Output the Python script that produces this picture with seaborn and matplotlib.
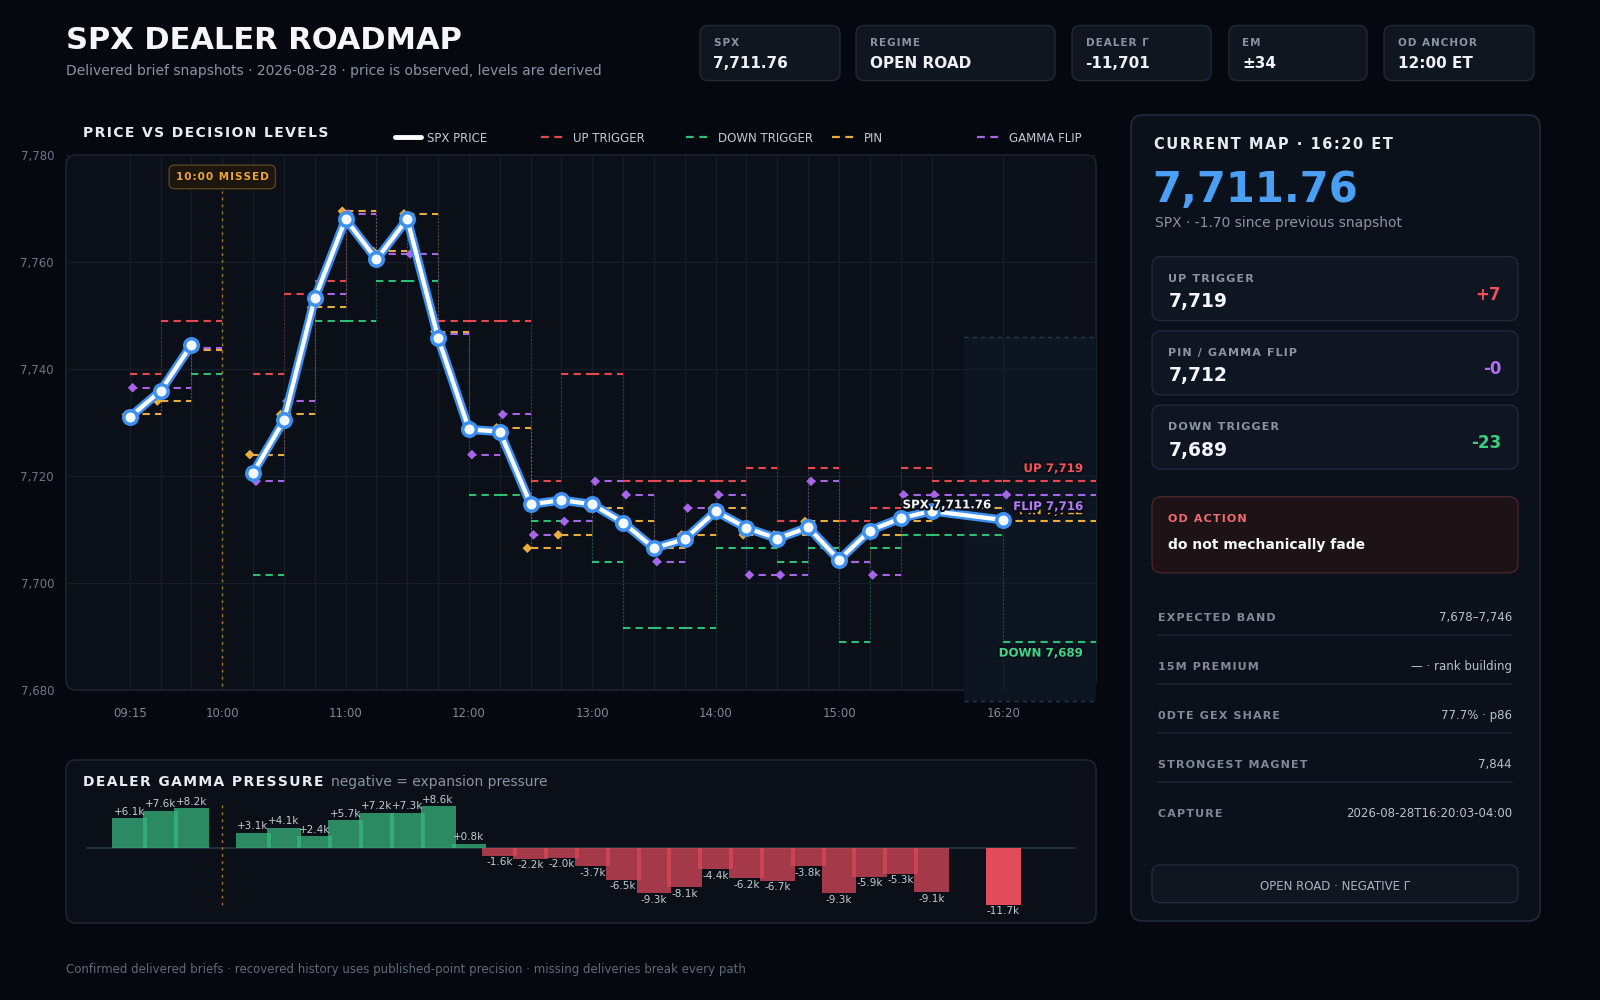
import numpy as np
import pandas as pd
import seaborn as sns
import matplotlib.pyplot as plt
import matplotlib.patheffects as pe
from matplotlib.patches import FancyBboxPatch
from matplotlib.lines import Line2D

# ==========================================
# 1. DATA
# ==========================================
nan = np.nan
times = ['09:15', '09:30', '09:45', '10:00', '10:15', '10:30', '10:45', '11:00', '11:15', '11:30',
         '11:45', '12:00', '12:15', '12:30', '12:45', '13:00', '13:15', '13:30', '13:45', '14:00',
         '14:15', '14:30', '14:45', '15:00', '15:15', '15:30', '15:45', '16:20']
spx = [7731.0, 7735.9, 7744.5, nan, 7720.6, 7730.4, 7753.2, 7768.0, 7760.5, 7768.0,
       7745.8, 7728.7, 7728.3, 7714.7, 7715.5, 7714.7, 7711.3, 7706.5, 7708.2, 7713.4,
       7710.3, 7708.3, 7710.4, 7704.3, 7709.8, 7712.1, 7713.46, 7711.76]
up_trigger = [7739, 7749, 7749, nan, 7739, 7754, 7756.5, nan, nan, nan,
              7749, 7749, 7749, 7719, 7739, 7739, 7719, 7719, 7719, 7719,
              7721.5, 7711.5, 7721.5, 7711.5, 7714, 7721.5, 7719, 7719]
down_trigger = [nan, nan, 7739, nan, 7701.5, nan, 7749, 7749, 7756.5, 7756.5,
                nan, 7716.5, 7716.5, 7711.5, 7711.5, 7704, 7691.5, 7691.5, 7691.5, 7706.5,
                7706.5, 7704, 7706.5, 7689, 7706.5, 7709, 7709, 7689]
pin = [7731.5, 7734, 7743.5, nan, 7724, 7731.5, 7751.5, 7769.5, 7762, 7769,
       7747, 7729, 7729, 7706.5, 7709, 7714, 7711.5, 7706.5, 7709, 7714,
       7709, 7709, 7711.5, 7704, 7709, 7711.5, 7714, 7711.5]
gamma_flip = [7736.5, 7736.5, 7744, nan, 7719, 7734, 7754, 7769, 7761.5, 7761.5,
              7746.5, 7724, 7731.5, 7709, 7711.5, 7719, 7716.5, 7704, 7714, 7716.5,
              7701.5, 7701.5, 7719, 7704, 7701.5, 7716.5, 7716.5, 7716.5]
dealer_gamma_k = [6.1, 7.6, 8.2, nan, 3.1, 4.1, 2.4, 5.7, 7.2, 7.3,
                  8.6, 0.8, -1.6, -2.2, -2.0, -3.7, -6.5, -9.3, -8.1, -4.4,
                  -6.2, -6.7, -3.8, -9.3, -5.9, -5.3, -9.1, -11.7]

expected_band = [7678, 7746]
x_tick_labels = ['09:15', '10:00', '11:00', '12:00', '13:00', '14:00', '15:00', '16:20']
y_ticks = [7680, 7700, 7720, 7740, 7760, 7780]

kpi_labels = ['SPX', 'REGIME', 'DEALER Γ', 'EM', 'OD ANCHOR']
kpi_values = ['7,711.76', 'OPEN ROAD', '-11,701', '±34', '12:00 ET']
row_labels = ['EXPECTED BAND', '15M PREMIUM', '0DTE GEX SHARE', 'STRONGEST MAGNET', 'CAPTURE']
row_values = ['7,678–7,746', '— · rank building', '77.7% · p86', '7,844', '2026-08-28T16:20:03-04:00']

def to_min(s):
    h, m = s.split(':')
    return int(h) * 60 + int(m)

df = pd.DataFrame({'t': [to_min(s) for s in times], 'spx': spx, 'up': up_trigger,
                   'down': down_trigger, 'pin': pin, 'flip': gamma_flip, 'gamma': dealer_gamma_k})
df['seg'] = df['spx'].isna().cumsum()
t = df['t'].to_numpy(float)
last = df.iloc[-1]
prev_price = df['spx'].dropna().iloc[-2]
missed = df.loc[df['spx'].isna(), 't'].to_numpy()

# ==========================================
# 2. STYLE
# ==========================================
sns.set_theme(style='dark')
plt.rcParams['font.family'] = ['DejaVu Sans']

BG = '#05090f'
PANEL = '#0a0f18'
EDGE = '#1c2532'
CARD = '#0f1620'
GRID = '#151d29'
TXT = '#eef2f7'
MUTED = '#8a94a4'
DIM = '#6c7686'
BLUE = '#3d8ff0'
RED = '#e5484f'
GREEN = '#2fbf74'
YELLOW = '#e9ad3c'
PURPLE = '#a865e8'

XMIN, XMAX = 524, 1025
W, H = 1600, 1000


def fx(x):
    return x / W


def fy(y):
    return 1 - y / H


def sp(s):
    # crude letter spacing with hair spaces
    return '\u200a'.join(s)


fig = plt.figure(figsize=(16, 10), dpi=100, facecolor=BG)


def panel(x0, y0, x1, y1, fc, ec, r=10, lw=1.0):
    p = FancyBboxPatch((fx(x0), fy(y1)), (x1 - x0) / W, (y1 - y0) / H,
                       boxstyle=f"round,pad=0,rounding_size={r / W}",
                       mutation_aspect=W / H, transform=fig.transFigure,
                       fc=fc, ec=ec, lw=lw, zorder=-10)
    fig.patches.append(p)


def ftext(x, y, s, **kw):
    kw.setdefault('va', 'baseline')
    fig.text(fx(x), fy(y), s, **kw)


# ==========================================
# 3. HEADER
# ==========================================
ftext(66, 49, 'SPX DEALER ROADMAP', fontsize=22, weight='bold', color='#f4f6fa')
ftext(66, 75.5, 'Delivered brief snapshots · 2026-08-28 · price is observed, levels are derived',
      fontsize=10, color=MUTED)

card_x = [(700, 840), (856, 1055), (1072, 1211), (1229, 1367), (1384, 1534)]
for (x0, x1), lab, val in zip(card_x, kpi_labels, kpi_values):
    panel(x0, 25.5, x1, 80.5, CARD, '#1f2937', r=8)
    ftext(x0 + 13.5, 45.7, sp(lab), fontsize=7.5, weight='bold', color=MUTED)
    ftext(x0 + 13.5, 68.3, val, fontsize=11, weight='bold', color=TXT)

# ==========================================
# 4. PRICE VS DECISION LEVELS
# ==========================================
panel(66, 155, 1096, 690, PANEL, EDGE, r=10, lw=1.2)
ftext(82.6, 137.3, sp('PRICE VS DECISION LEVELS'), fontsize=10, weight='bold', color='#e8edf3')

legend_items = [('SPX PRICE', 'white', '-'), ('UP TRIGGER', RED, '--'), ('DOWN TRIGGER', GREEN, '--'),
                ('PIN', YELLOW, '--'), ('GAMMA FLIP', PURPLE, '--')]
for x0, (lab, col, ls) in zip([395, 541, 686, 832, 976.5], legend_items):
    if ls == '-':
        fig.add_artist(Line2D([fx(x0), fx(x0 + 26)], [fy(136.7)] * 2, color=col, lw=3.5,
                              solid_capstyle='round', transform=fig.transFigure))
    else:
        fig.add_artist(Line2D([fx(x0), fx(x0 + 24)], [fy(136.7)] * 2, color=col, lw=1.6,
                              dashes=(3.5, 2.5), transform=fig.transFigure))
    ftext(x0 + 32, 141.7, lab, fontsize=8.5, color='#c3cad5')

ax = fig.add_axes([fx(66), fy(690), (1096 - 66) / W, (690 - 155) / H])
ax.set_facecolor('none')
for s in ax.spines.values():
    s.set_visible(False)

# expected band on the right
band_x = [last['t'] - 19, XMAX]
ax.fill_between(band_x, expected_band[0], expected_band[1], color='#0d1521', lw=0, zorder=0.2, clip_on=False)
for yb in expected_band:
    ax.plot(band_x, [yb, yb], color='#243a57', lw=1, dashes=(3, 3), zorder=0.3, clip_on=False)

# missed slot marker
for m in missed:
    ax.vlines(m, 7680.8, 7773.3, colors='#a8762a', linestyles=[(0, (2, 3))], lw=1, zorder=1)
    ax.text(m, 7775.9, sp('10:00 MISSED'), ha='center', va='center', fontsize=7.5, weight='bold',
            color='#f0a53a', zorder=9,
            bbox=dict(boxstyle='round,pad=0.65,rounding_size=0.5', fc='#1c160d', ec='#5a4420', lw=1))

# decision levels: dashed steps, dotted connectors
x_end = np.append(t[1:], XMAX)
levels = [('up', RED), ('down', GREEN), ('pin', YELLOW), ('flip', PURPLE)]
for name, col in levels:
    v = df[name].to_numpy(float)
    ok = ~np.isnan(v)
    ax.hlines(v[ok], t[ok], x_end[ok], colors=col, linestyles=[(0, (3.5, 2.5))], lw=1.5, zorder=3)
    prev = np.r_[nan, v[:-1]]
    ch = ok & ~np.isnan(prev) & (prev != v)
    ax.vlines(t[ch], prev[ch], v[ch], colors=col, linestyles=[(0, (1.2, 2))], lw=0.8, alpha=0.4, zorder=2)

for name, col, off in [('pin', YELLOW, -1.6), ('flip', PURPLE, 1.4)]:
    sub = df.dropna(subset=[name])
    sns.scatterplot(x=sub['t'] + off, y=sub[name], marker='D', s=24, color=col, edgecolor='none',
                    ax=ax, zorder=4, legend=False)

# price path (breaks at missed delivery)
line_df = df.dropna(subset=['spx'])
sns.lineplot(data=line_df, x='t', y='spx', units='seg', estimator=None, color=BLUE, lw=6.5,
             ax=ax, zorder=5, legend=False, solid_capstyle='round', solid_joinstyle='round')
sns.lineplot(data=line_df, x='t', y='spx', units='seg', estimator=None, color='white', lw=3.0,
             ax=ax, zorder=6, legend=False, solid_capstyle='round', solid_joinstyle='round')
sns.scatterplot(data=line_df, x='t', y='spx', s=95, color='#f4f8ff', edgecolor=BLUE,
                linewidth=2.5, ax=ax, zorder=7, legend=False)

stroke = [pe.withStroke(linewidth=3, foreground='#0a0f18')]
xl = 1018.7
ax.text(xl, last['up'] + 2.4, f"UP {last['up']:,.0f}", ha='right', va='center', fontsize=8.5,
        weight='bold', color='#f4525a', zorder=8, path_effects=stroke)
# pin label sits under the flip label, as in the brief
ax.text(xl, last['pin'] + 2.0, f"PIN {last['pin']:,.0f}", ha='right', va='center', fontsize=8.5,
        weight='bold', color=YELLOW, zorder=8, path_effects=stroke)
ax.text(xl, last['flip'] - 2.2, f"FLIP {last['flip']:,.0f}", ha='right', va='center', fontsize=8.5,
        weight='bold', color='#b57cf5', zorder=8, path_effects=[pe.withStroke(linewidth=4, foreground='#0a0f18')])
ax.text(xl, last['down'] - 2.1, f"DOWN {last['down']:,.0f}", ha='right', va='center', fontsize=8.5,
        weight='bold', color='#3fd68a', zorder=8, path_effects=stroke)
ax.text(last['t'] - 6.1, last['spx'] + 2.85, f"SPX {last['spx']:,.2f}", ha='right', va='center',
        fontsize=8.5, weight='bold', color='#f4f6fa', zorder=8, path_effects=stroke)

ax.set_xlim(XMIN, XMAX)
ax.set_ylim(7680, 7780)
ax.set_xticks([to_min(s) for s in x_tick_labels])
ax.set_xticklabels(x_tick_labels)
ax.set_xticks(t, minor=True)
ax.xaxis.remove_overlapping_locs = False
ax.set_yticks(y_ticks)
ax.set_yticklabels([f"{v:,}" for v in y_ticks])
ax.grid(axis='y', which='major', color=GRID, lw=1)
ax.grid(axis='x', which='minor', color=GRID, lw=1)
ax.grid(axis='x', which='major', visible=False)
ax.tick_params(axis='y', length=0, pad=8.6, labelsize=8.5, labelcolor=DIM)
ax.tick_params(axis='x', which='both', length=0, pad=12, labelsize=8.5, labelcolor='#7d8797')
ax.set_xlabel('')
ax.set_ylabel('')

# ==========================================
# 5. DEALER GAMMA PRESSURE
# ==========================================
panel(66, 760, 1096, 923, PANEL, EDGE, r=10, lw=1.2)
ftext(82.6, 786, sp('DEALER GAMMA PRESSURE'), fontsize=10, weight='bold', color='#e8edf3')
ftext(330.7, 786, 'negative = expansion pressure', fontsize=10, color=MUTED)

gax = fig.add_axes([fx(66), fy(915), (1096 - 66) / W, (915 - 790) / H])
gax.set_facecolor('none')
gdf = df.dropna(subset=['gamma']).copy()
gdf['kind'] = np.where(gdf['gamma'] >= 0, 'pos', 'neg')
gdf.loc[gdf.index[-1], 'kind'] = 'now'
gax.axhline(0, xmin=0.02, xmax=0.98, color='#27313f', lw=1.3, zorder=0)
sns.barplot(data=gdf, x='t', y='gamma', hue='kind', native_scale=True, dodge=False, width=1.13,
            palette={'pos': '#38b57c', 'neg': '#d9485a', 'now': '#e24d5c'}, saturation=1,
            linewidth=0, legend=False, ax=gax, zorder=2)
for b in gax.patches:
    c = b.get_x() + b.get_width() / 2
    b.set_alpha(1.0 if abs(c - last['t']) < 1 else 0.75)

for _, r in gdf.iterrows():
    g = r['gamma']
    gax.text(r['t'], g + (0.35 if g >= 0 else -0.35), f"{g:+.1f}k", ha='center',
             va='bottom' if g >= 0 else 'top', fontsize=7.5, color='#c4ccd6', zorder=3)
for m in missed:
    gax.vlines(m, -11.8, 9.7, colors='#a8762a', linestyles=[(0, (2, 3))], lw=1, zorder=1)

gax.set_xlim(XMIN, XMAX)
gax.set_ylim(-13.81, 11.96)
gax.axis('off')

# ==========================================
# 6. CURRENT MAP PANEL
# ==========================================
panel(1131, 115, 1540, 921, '#0b111a', '#212b39', r=12, lw=1.2)
ftext(1154, 149.3, sp(f"CURRENT MAP · {times[-1]} ET"), fontsize=10.5, weight='bold', color='#e6ebf2')
ftext(1152, 201.7, f"{last['spx']:,.2f}", fontsize=30, weight='bold', color='#4a9ff5')
ftext(1155, 226.7, f"SPX · {last['spx'] - prev_price:+.2f} since previous snapshot", fontsize=10, color=MUTED)

cards = [('UP TRIGGER', last['up'], '#f0505a'),
         ('PIN / GAMMA FLIP', last['pin'], '#b070f0'),
         ('DOWN TRIGGER', last['down'], '#3ad07f')]
for i, (lab, val, col) in enumerate(cards):
    top = 256.7 + 74.2 * i
    panel(1152, top, 1518, top + 64, '#0f1621', '#1f2a3a', r=9)
    ftext(1168.3, top + 25, sp(lab), fontsize=8, weight='bold', color=MUTED)
    ftext(1168.3, top + 50.6, f"{val:,.0f}", fontsize=13.5, weight='bold', color='#f3f6fa')
    ftext(1501, top + 43.3, f"{val - last['spx']:+.0f}", fontsize=12, weight='bold', color=col, ha='right')

panel(1152, 496.7, 1518, 572.7, '#1d1316', '#4a2329', r=9)
ftext(1168.3, 522.3, sp('OD ACTION'), fontsize=8, weight='bold', color='#f06a72')
ftext(1168.3, 549.3, 'do not mechanically fade', fontsize=10, weight='bold', color='#f6f7f9')

for i, (lab, val) in enumerate(zip(row_labels, row_values)):
    base = 620.7 + 49 * i
    ftext(1158, base, sp(lab), fontsize=8, weight='bold', color='#7f8999')
    ftext(1512, base, val, fontsize=8.5, color='#b9c1cc', ha='right')
    if i < len(row_labels) - 1:
        fig.add_artist(Line2D([fx(1158), fx(1512)], [fy(base + 14.6)] * 2, color='#1a2330', lw=1.2,
                              transform=fig.transFigure))

panel(1152, 865, 1518, 902.7, '#0f1620', '#222c3a', r=8)
ftext(1335, 890, 'OPEN ROAD · NEGATIVE Γ', fontsize=8.5, color='#aab3c0', ha='center')

# ==========================================
# 7. FOOTER
# ==========================================
ftext(66, 972.5, 'Confirmed delivered briefs · recovered history uses published-point precision · '
      'missing deliveries break every path', fontsize=8.5, color='#5f6a7a')

fig.savefig('out.png', dpi=100, facecolor=BG)
